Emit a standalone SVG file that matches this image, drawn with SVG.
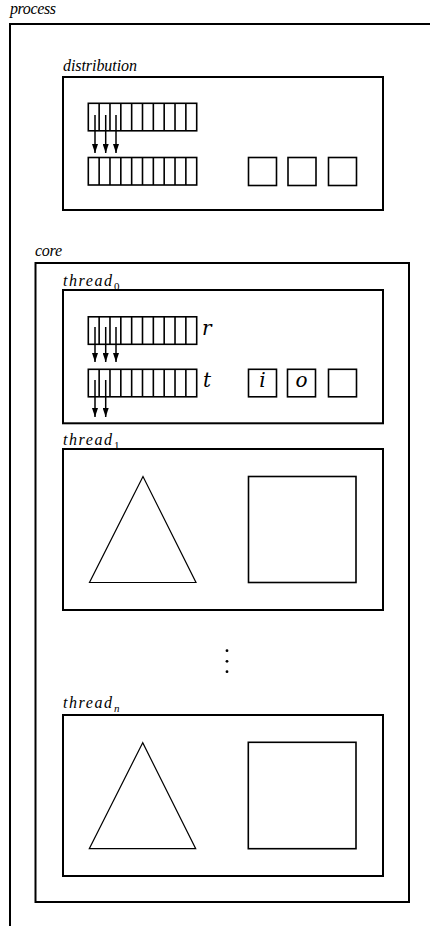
<svg xmlns="http://www.w3.org/2000/svg" xmlns:xlink="http://www.w3.org/1999/xlink" width="430" height="926" viewBox="0 0 430 926">
<style>
.box{fill:none;stroke:#000;stroke-width:2}
.cell{fill:none;stroke:#000;stroke-width:1.6}
.thin{fill:none;stroke:#000;stroke-width:1.2}
.arr{stroke:#000;stroke-width:1.5;fill:none;marker-end:url(#ah)}
.lbl{font-family:"Liberation Serif",serif;font-style:italic;font-size:16px;fill:#000}
.sub{font-family:"Liberation Serif",serif;font-size:11px;fill:#000}
.math{font-family:"DejaVu Serif",serif;font-style:italic;font-size:20px;fill:#000}
</style>
<defs>
<marker id="ah" viewBox="0 0 10 10" refX="10" refY="5" markerWidth="9" markerHeight="6" markerUnits="userSpaceOnUse" orient="auto" preserveAspectRatio="none">
<path d="M0,0 L10,5 L0,10 z" fill="#000"/>
</marker>
<g id="queue">
<rect x="0" y="0" width="108.4" height="27.5" class="cell"/>
<path class="cell" d="M10.84,0V27.5M21.68,0V27.5M32.52,0V27.5M43.36,0V27.5M54.2,0V27.5M65.04,0V27.5M75.88,0V27.5M86.72,0V27.5M97.56,0V27.5"/>
</g>
</defs>

<g id="process">
<text class="lbl" x="10" y="14" textLength="46" lengthAdjust="spacing">process</text>
<path class="box" d="M430,24 H10 V926"/>
</g>

<g id="distribution">
<text class="lbl" x="63" y="71" textLength="74" lengthAdjust="spacing">distribution</text>
<rect class="box" x="63" y="77" width="320" height="133"/>
<use xlink:href="#queue" x="88.3" y="103.3"/>
<use xlink:href="#queue" x="88.3" y="157.5"/>
<rect class="cell" x="248.5" y="157.5" width="28" height="28"/>
<rect class="cell" x="288" y="157.5" width="28" height="28"/>
<rect class="cell" x="328.5" y="157.5" width="28" height="28"/>
</g>

<g id="core">
<text class="lbl" x="35" y="256" textLength="27" lengthAdjust="spacing">core</text>
<rect class="box" x="35.5" y="263" width="373.5" height="639"/>
</g>

<g id="thread0">
<text class="lbl" x="63" y="286" textLength="49" lengthAdjust="spacing">thread</text><text class="sub" x="114" y="290">0</text>
<rect class="box" x="63" y="290" width="320" height="133.3"/>
<use xlink:href="#queue" x="88.3" y="316.8"/>
<use xlink:href="#queue" x="88.3" y="369.3"/>
<text class="math" x="202" y="335">r</text>
<text class="math" x="203" y="387">t</text>
<rect class="cell" x="248.5" y="369.3" width="28" height="27.5"/>
<text class="math" x="262.5" y="387" text-anchor="middle">i</text>
<rect class="cell" x="287.5" y="369.3" width="28" height="27.5"/>
<text class="math" x="301.5" y="387" text-anchor="middle">o</text>
<rect class="cell" x="328.5" y="369.3" width="28" height="27.5"/>
</g>

<g id="thread1">
<text class="lbl" x="63" y="445" textLength="49" lengthAdjust="spacing">thread</text><text class="sub" x="114" y="449">1</text>
<rect class="box" x="63" y="449" width="320" height="161"/>
<path class="thin" d="M143,476.5 L89.5,582.5 H196 Z"/>
<rect class="cell" x="248.5" y="476.5" width="107.5" height="106"/>
</g>

<g id="ellipsis">
<circle cx="227" cy="650.7" r="1.4" fill="#000"/>
<circle cx="227" cy="661.3" r="1.4" fill="#000"/>
<circle cx="227" cy="671.7" r="1.4" fill="#000"/>
</g>

<g id="threadn">
<text class="lbl" x="63" y="708" textLength="49" lengthAdjust="spacing">thread</text><text class="sub" x="114" y="712" font-style="italic">n</text>
<rect class="box" x="63" y="715" width="320" height="161"/>
<path class="thin" d="M142.7,742.7 L89.3,848.7 H195.7 Z"/>
<rect class="cell" x="248.3" y="742.3" width="107.7" height="106.4"/>
</g>

<g id="connectors">
<line class="arr" x1="95" y1="115" x2="95" y2="153"/>
<line class="arr" x1="105.7" y1="115" x2="105.7" y2="153"/>
<line class="arr" x1="116" y1="115" x2="116" y2="153"/>
<line class="arr" x1="95" y1="327" x2="95" y2="362"/>
<line class="arr" x1="105.7" y1="327" x2="105.7" y2="362"/>
<line class="arr" x1="116" y1="327" x2="116" y2="362"/>
<line class="arr" x1="95" y1="380" x2="95" y2="417"/>
<line class="arr" x1="105.7" y1="380" x2="105.7" y2="417"/>
</g>
</svg>
